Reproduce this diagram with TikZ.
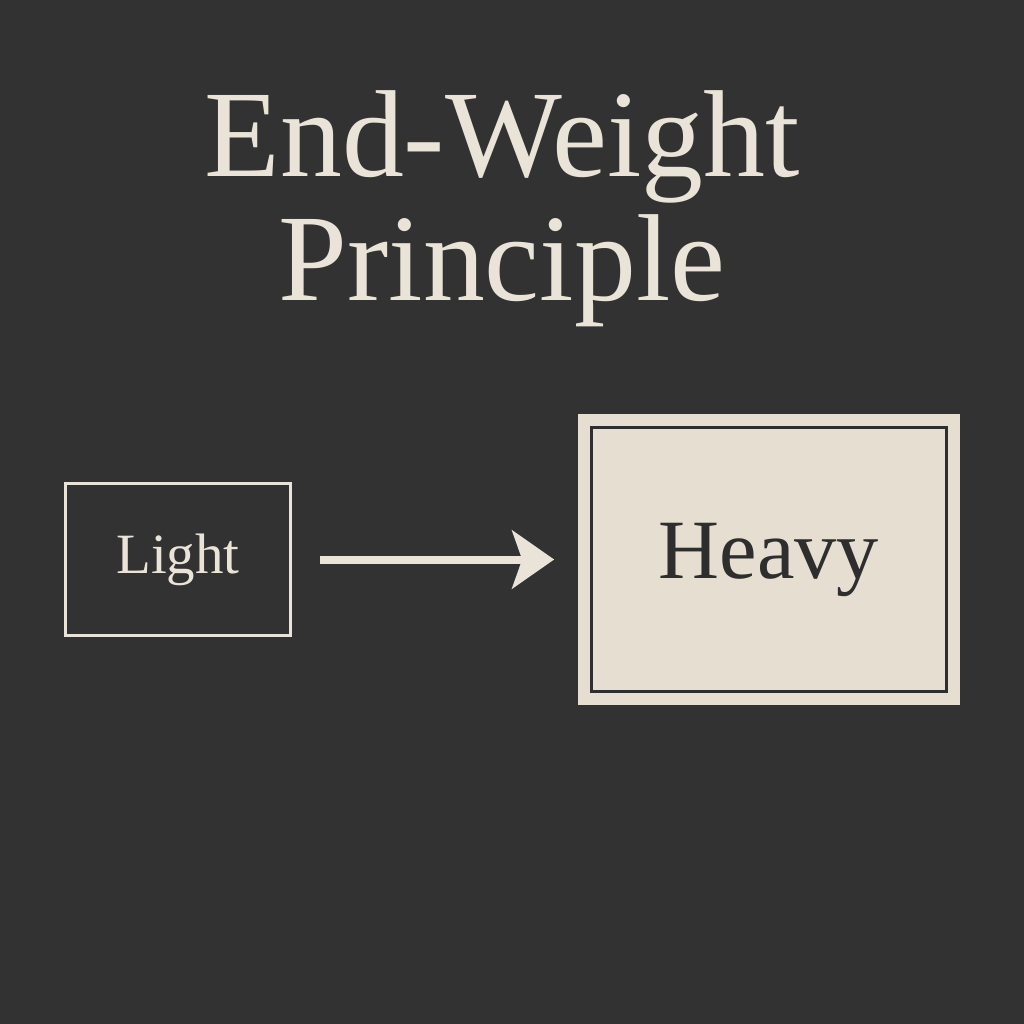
\documentclass[tikz,border=0pt]{standalone}
\usepackage{fontspec}
\setmainfont{Liberation Serif}
\usetikzlibrary{arrows.meta, positioning}

\definecolor{bgdark}{HTML}{323232}
\definecolor{cream}{HTML}{EAE4D8}
\definecolor{paper}{HTML}{E5DED1}
\definecolor{ink}{HTML}{2E2E2E}

\begin{document}
\begin{tikzpicture}[
    x=0.01cm, y=-0.01cm,
    title/.style={align=center, inner sep=0pt, text=cream, font=\fontsize{35.2}{35.3}\selectfont},
    light/.style={rectangle, minimum width=2.25cm, minimum height=1.52cm, inner sep=0pt, draw=cream, line width=0.03cm, text=cream, font=\fontsize{16.2}{18}\selectfont},
    heavy/.style={rectangle, minimum width=3.82cm, minimum height=2.91cm, inner sep=0pt, fill=paper, text=ink, font=\fontsize{24}{26}\selectfont},
    frame/.style={draw=ink, line width=0.03cm},
    arrow/.style={-{Stealth[length=0.42cm, width=0.58cm, inset=0.1cm]}, draw=cream, line width=0.08cm}
]

    % Background
    \fill[bgdark] (0,0) rectangle (1024,1024);

    % Title
    \node[title, anchor=north] (heading) at (502,90) {End-Weight\\Principle};

    % Boxes
    \node[light] (lightbox) at (178,559.5) {Light};
    \node[heavy] (heavybox) at (769,559.5) {Heavy};
    \draw[frame] ([shift={(0.145cm,0.145cm)}]heavybox.south west) rectangle ([shift={(-0.145cm,-0.145cm)}]heavybox.north east);

    % Arrow
    \draw[arrow, shorten <=0.28cm, shorten >=0.23cm] (lightbox) -- (heavybox);

\end{tikzpicture}
\end{document}
